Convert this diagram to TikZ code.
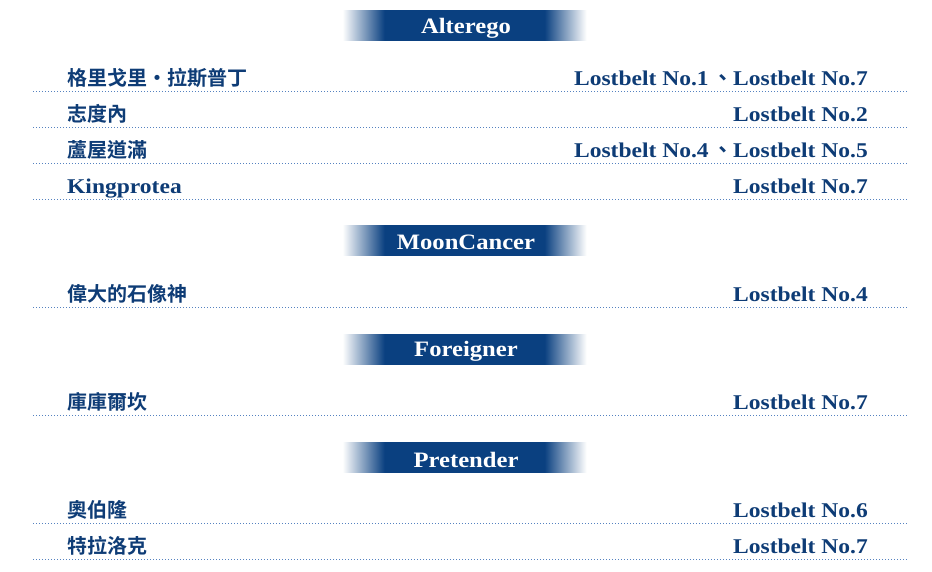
\documentclass[tikz,border=0pt]{standalone}
\usepackage{fontspec}
\setmainfont{Liberation Serif}[FakeStretch=1.12]
\newfontfamily\cjk{Noto Sans CJK TC}[BoldFont=* Bold]
\definecolor{navy}{RGB}{10,64,128}
\definecolor{textnavy}{RGB}{14,60,118}
\definecolor{dotblue}{RGB}{85,130,192}
\tikzset{
  bartext/.style={text=white,font=\fontsize{22}{24}\selectfont\bfseries,anchor=center,inner sep=0pt},
  lefttext/.style={text=textnavy,font=\fontsize{20}{24}\selectfont\bfseries,anchor=base west,inner sep=0pt},
  righttext/.style={text=textnavy,font=\fontsize{21}{24}\selectfont\bfseries,anchor=base east,inner sep=0pt},
  dotline/.style={dotblue,line width=1pt,dash pattern=on 1pt off 2pt},
}
\newcommand{\classbar}[3]{%
  \fill[navy] (384.5,#1-15.5) rectangle (545.5,#1+15.5);
  \foreach \i in {0,...,41}{%
    \pgfmathsetmacro{\pct}{(\i+0.5)/42*100}%
    \fill[navy!\pct!white] (343+\i,#1-15.5) rectangle (344.1+\i,#1+15.5);
    \fill[navy!\pct!white] (587-\i,#1-15.5) rectangle (585.9-\i,#1+15.5);
  }
  \node[bartext] (#2) at (466,#1+2.5) {#3};
}
\newcommand{\rowentry}[4]{%
  \node[lefttext] (#2l) at (67,#1) {#3};
  \node[righttext] (#2r) at (868,#1) {#4};
  \coordinate (#2a) at (33,#1+6);
  \coordinate (#2b) at (907,#1+6);
  \draw[dotline] (#2a) -- (#2b);
}
\newcommand{\sep}{\,{\cjk\bfseries 、}}
\begin{document}
\begin{tikzpicture}[x=1pt,y=-1pt]
\useasboundingbox[fill=white] (0,0) rectangle (932,571);
\classbar{25.5}{h1}{Alterego}
\rowentry{85}{r1}{\cjk\bfseries 格里戈里・拉斯普丁}{Lostbelt No.1\sep Lostbelt No.7}
\rowentry{121}{r2}{\cjk\bfseries 志度內}{Lostbelt No.2}
\rowentry{157}{r3}{\cjk\bfseries 蘆屋道滿}{Lostbelt No.4\sep Lostbelt No.5}
\rowentry{193}{r4}{\fontsize{21}{24}\selectfont Kingprotea}{Lostbelt No.7}
\classbar{240}{h2}{MoonCancer}
\rowentry{301}{r5}{\cjk\bfseries 偉大的石像神}{Lostbelt No.4}
\classbar{349}{h3}{Foreigner}
\rowentry{409}{r6}{\cjk\bfseries 庫庫爾坎}{Lostbelt No.7}
\classbar{457}{h4}{Pretender}
\rowentry{517}{r7}{\cjk\bfseries 奧伯隆}{Lostbelt No.6}
\rowentry{553}{r8}{\cjk\bfseries 特拉洛克}{Lostbelt No.7}
\end{tikzpicture}
\end{document}
